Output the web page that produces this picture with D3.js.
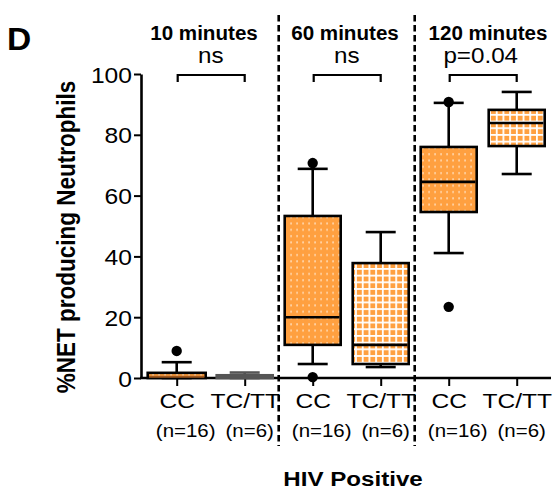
<!DOCTYPE html>
<html>
<head>
<meta charset="utf-8">
<script src="https://cdn.jsdelivr.net/npm/d3@7"></script>
<style>
  body { margin: 0; background: #fff; }
  svg { display: block; }
  text { font-family: "Liberation Sans", Arial, Helvetica, sans-serif; fill: #000; }
</style>
</head>
<body>
<svg id="chart" width="555" height="492"></svg>
<script>
// ---- data ----
const timepoints   = ["10 minutes", "60 minutes", "120 minutes"];
const genotypes    = ["CC", "TC/TT"];
const sampleSizes  = ["(n=16)", "(n=6)"];
const comparisons  = ["ns", "ns", "p=0.04"];
const groupLabel   = "HIV Positive";
const yTitle       = "%NET producing Neutrophils";
const panelLetter  = "D";
const yTicks       = [0, 20, 40, 60, 80, 100];

// box statistics, in order: 10 min CC, 10 min TC/TT, 60 min CC, 60 min TC/TT, 120 min CC, 120 min TC/TT
const whiskerLow  = [0,   0,   4.6,  3.6,  41.1, 67.1];
const quartile1   = [0,   0,   10.9, 4.6,  54.6, 76.3];
const medians     = [0.4, 0.2, 20.0, 10.9, 64.5, 83.9];
const quartile3   = [1.7, 0.9, 53.3, 37.8, 76.0, 88.2];
const whiskerHigh = [5.2, 1.8, 68.8, 48.0, 90.5, 94.1];
const outliers    = [[8.9], [], [0.3, 70.7], [], [23.4, 90.8], []];

// ---- layout ----
const svg = d3.select("#chart");
const orange = "#FFA040";
const keys = [];
timepoints.forEach(t => genotypes.forEach(g => keys.push(t + "|" + g)));
const boxes = keys.map((k, i) => ({
  key: k, time: k.split("|")[0], geno: k.split("|")[1], i,
  lo: whiskerLow[i], q1: quartile1[i], med: medians[i], q3: quartile3[i], hi: whiskerHigh[i],
  out: outliers[i]
}));

const x = d3.scalePoint().domain(keys).range([176.7, 516.7]);
const y = d3.scaleLinear().domain([0, 100]).range([378, 74]);
const axisX = 141, axisRight = 551;
const boxW = 56, capW = 30;
const sw = 2.6;

// fill patterns: white dots for CC, white grid for TC/TT
const defs = svg.append("defs");
const dots = defs.append("pattern").attr("id", "dots").attr("patternUnits", "userSpaceOnUse")
  .attr("width", 6).attr("height", 6.3);
dots.append("rect").attr("width", 6).attr("height", 6.3).attr("fill", orange);
dots.append("rect").attr("x", 2.5).attr("y", 2).attr("width", 1.1).attr("height", 2)
  .attr("fill", "#fff").attr("opacity", 0.85);
const grid = defs.append("pattern").attr("id", "grid").attr("patternUnits", "userSpaceOnUse")
  .attr("width", 6.7).attr("height", 6.7);
grid.append("rect").attr("width", 6.7).attr("height", 6.7).attr("fill", orange);
grid.append("rect").attr("width", 1.8).attr("height", 6.7).attr("fill", "#fff");
grid.append("rect").attr("width", 6.7).attr("height", 1.8).attr("fill", "#fff");

// helper for horizontally widened text
function label(g, txt, px, py, opts) {
  const o = Object.assign({ size: 22, weight: "normal", anchor: "middle", sx: 1.12 }, opts || {});
  return g.append("text")
    .attr("transform", `translate(${px},${py}) scale(${o.sx},1)`)
    .attr("text-anchor", o.anchor)
    .style("font-size", o.size + "px")
    .style("font-weight", o.weight)
    .text(txt);
}

// ---- y axis ----
const gy = svg.append("g").attr("transform", `translate(${axisX},0)`)
  .call(d3.axisLeft(y).tickValues(yTicks).tickSize(7).tickSizeOuter(0).tickPadding(0));
gy.select(".domain").attr("stroke-width", sw).attr("stroke", "#000");
gy.selectAll(".tick line").attr("stroke-width", 2).attr("stroke", "#000");
gy.selectAll(".tick text")
  .attr("x", null).attr("dy", null)
  .attr("transform", "translate(-9,8) scale(1.12,1)")
  .style("font-size", "22px").style("font-family", null).attr("fill", "#000");

// ---- x axis ----
svg.append("line").attr("x1", axisX - 1).attr("x2", axisRight).attr("y1", y(0)).attr("y2", y(0))
  .attr("stroke", "#000").attr("stroke-width", sw);
const gx = svg.append("g").attr("transform", `translate(0,${y(0)})`)
  .call(d3.axisBottom(x).tickSize(8).tickSizeOuter(0).tickFormat(k => k.split("|")[1]));
gx.select(".domain").remove();
gx.selectAll(".tick line").attr("stroke-width", 2).attr("stroke", "#000");
gx.selectAll(".tick text")
  .attr("y", null).attr("dy", null)
  .attr("transform", "translate(0,30) scale(1.17,1)")
  .style("font-size", "21px").style("font-family", null).attr("fill", "#000");

// sample sizes under each genotype
const nOffset = { "CC": 9, "TC/TT": 5 };
boxes.forEach(b => {
  label(svg, sampleSizes[genotypes.indexOf(b.geno)], x(b.key) + nOffset[b.geno], 437, { size: 17.5, sx: 1.17 });
});

// dashed separators between time points
for (let t = 1; t < timepoints.length; t++) {
  const xs = (x(keys[t * 2 - 1]) + x(keys[t * 2])) / 2;
  svg.append("line").attr("x1", xs).attr("x2", xs).attr("y1", 15).attr("y2", 446)
    .attr("stroke", "#000").attr("stroke-width", 2.6).attr("stroke-dasharray", "6.5,3.5");
}

// ---- boxes ----
const gb = svg.append("g");
boxes.forEach(b => {
  const cx = x(b.key);
  const faint = b.i === 1;          // 10 min TC/TT: near-zero, drawn in grey
  const stroke = faint ? "#555" : "#000";
  const w = b.i === 0 ? 58 : boxW;
  const g = gb.append("g");
  // whiskers
  g.append("line").attr("x1", cx).attr("x2", cx).attr("y1", y(b.hi)).attr("y2", y(b.q3))
    .attr("stroke", stroke).attr("stroke-width", sw);
  g.append("line").attr("x1", cx).attr("x2", cx).attr("y1", y(b.q1)).attr("y2", y(b.lo))
    .attr("stroke", stroke).attr("stroke-width", sw);
  [b.hi, b.lo].forEach(v => g.append("line")
    .attr("x1", cx - capW / 2).attr("x2", cx + capW / 2).attr("y1", y(v)).attr("y2", y(v))
    .attr("stroke", stroke).attr("stroke-width", sw));
  // box
  g.append("rect").attr("x", cx - w / 2).attr("width", w)
    .attr("y", y(b.q3)).attr("height", Math.max(0, y(b.q1) - y(b.q3)))
    .attr("fill", b.geno === "CC" ? "url(#dots)" : "url(#grid)")
    .attr("stroke", stroke).attr("stroke-width", sw);
  // median
  g.append("line").attr("x1", cx - w / 2 + 1.3).attr("x2", cx + w / 2 - 1.3)
    .attr("y1", y(b.med)).attr("y2", y(b.med))
    .attr("stroke", b.i === 0 ? "#A0581E" : stroke).attr("stroke-width", b.i === 0 ? 2 : sw);
  // outliers
  b.out.forEach(v => g.append("circle").attr("cx", cx).attr("cy", y(v)).attr("r", 5.2).attr("fill", "#000"));
});

// ---- titles and comparison brackets ----
const titleOffset = [-6.7, -1.7, 5.3];
const statOffset = [0, 0, -2];
timepoints.forEach((t, i) => {
  const xa = x(keys[i * 2]), xb = x(keys[i * 2 + 1]);
  const mid = (xa + xb) / 2;
  label(svg, t, mid + titleOffset[i], 40, { size: 20, weight: "bold", sx: 1.03 });
  label(svg, comparisons[i], mid + statOffset[i], 63, { size: 22, sx: 1.1 });
  svg.append("path")
    .attr("d", `M${xa + 1},82 V75 H${xb} V82`)
    .attr("fill", "none").attr("stroke", "#000").attr("stroke-width", 2.2);
});

// ---- axis titles and panel letter ----
svg.append("text")
  .attr("transform", "translate(75,237) rotate(-90) scale(1,1.15)")
  .attr("text-anchor", "middle")
  .style("font-size", "22.5px").style("font-weight", "bold")
  .text(yTitle);
label(svg, groupLabel, 353, 486, { size: 21, weight: "bold", sx: 1.15 });
label(svg, panelLetter, 7, 50, { size: 32, weight: "bold", anchor: "start", sx: 1.05 });
</script>
</body>
</html>
